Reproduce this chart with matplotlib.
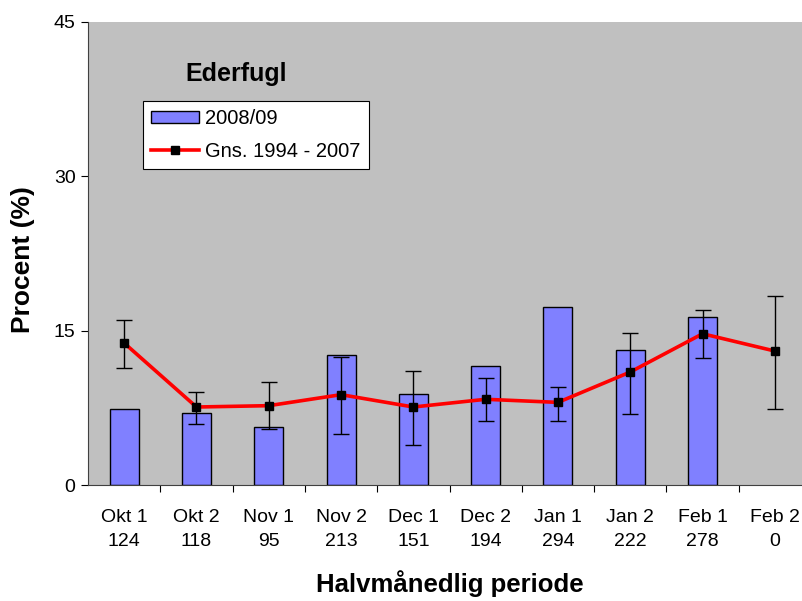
import matplotlib
matplotlib.use("Agg")
import matplotlib.pyplot as plt
import numpy as np

plt.rcParams['font.family'] = ['Liberation Sans', 'DejaVu Sans']

periods = ["Okt 1", "Okt 2", "Nov 1", "Nov 2", "Dec 1", "Dec 2", "Jan 1", "Jan 2", "Feb 1", "Feb 2"]
counts = [124, 118, 95, 213, 151, 194, 294, 222, 278, 0]
season_2008 = [7.36, 6.97, 5.6, 12.6, 8.87, 11.53, 17.27, 13.09, 16.33, 0.0]
mean_94_07 = [13.8, 7.58, 7.71, 8.78, 7.58, 8.33, 8.03, 10.98, 14.7, 13.02]
err_upper = [16.03, 9.04, 9.98, 12.47, 11.08, 10.43, 9.49, 14.8, 16.98, 18.4]
err_lower = [11.37, 5.93, 5.47, 4.99, 3.89, 6.25, 6.25, 6.87, 12.31, 7.36]

W, H = 802, 601
fig = plt.figure(figsize=(W / 100, H / 100), dpi=100)
left, right, top, bottom = 88, 811, 22, 485
ax = fig.add_axes([left / W, 1 - bottom / H, (right - left) / W, (bottom - top) / H])
ax.set_facecolor('#C0C0C0')

x = np.arange(len(periods))
bars = ax.bar(x, season_2008, width=0.4, color='#8080FF', edgecolor='black', linewidth=1.0,
              label='2008/09', zorder=2)
for b, v in zip(bars, season_2008):
    if v == 0:
        b.set_visible(False)
mean = np.array(mean_94_07)
yerr = np.vstack([mean - np.array(err_lower), np.array(err_upper) - mean])
ax.errorbar(x, mean, yerr=yerr, fmt='none', ecolor='black', elinewidth=1.0,
            capsize=5.5, capthick=1.0, zorder=3)
line, = ax.plot(x, mean, color='red', linewidth=2.6, marker='s', markersize=5.5,
                markerfacecolor='black', markeredgecolor='black', label='Gns. 1994 - 2007', zorder=4)

ax.set_xlim(-0.5, len(periods) - 0.5)
ax.set_ylim(0, 45)
ax.set_yticks([0, 15, 30, 45])
ax.tick_params(axis='y', direction='out', length=5, labelsize=14, pad=4)
ax.set_xticks(x + 0.5, minor=False)
ax.set_xticklabels([])
ax.set_xticks(x, minor=True)
ax.set_xticklabels([f"{p}\n{c}" for p, c in zip(periods, counts)], minor=True,
                   fontsize=14, linespacing=1.55)
ax.tick_params(axis='x', which='major', direction='out', length=5)
ax.tick_params(axis='x', which='minor', length=0, pad=17)

for s in ['top', 'right']:
    ax.spines[s].set_visible(False)
ax.spines['left'].set_color('#404040')
ax.spines['bottom'].set_color('#404040')

fig.text(23 / W, 1 - 260 / H, 'Procent (%)', fontsize=19, fontweight='bold',
         rotation=90, ha='center', va='center')
fig.text(450 / W, 1 - 584 / H, 'Halvmånedlig periode',
         fontsize=18.5, fontweight='bold', ha='center', va='center')

fig.text(236 / W, 1 - 74 / H, 'Ederfugl', fontsize=18, fontweight='bold', ha='center', va='center')

leg = ax.legend(handles=[bars, line], labels=['2008/09', 'Gns. 1994 - 2007'],
                loc='upper left', bbox_to_anchor=((143 - left) / (right - left), 1 - (101 - top) / (bottom - top)),
                frameon=True, fancybox=False, edgecolor='black', framealpha=1,
                fontsize=14.5, handlelength=2.4, borderaxespad=0, borderpad=0.4,
                labelspacing=0.7, handletextpad=0.3, handleheight=0.6)
leg.get_frame().set_linewidth(0.8)

fig.savefig('out.png', dpi=100)
